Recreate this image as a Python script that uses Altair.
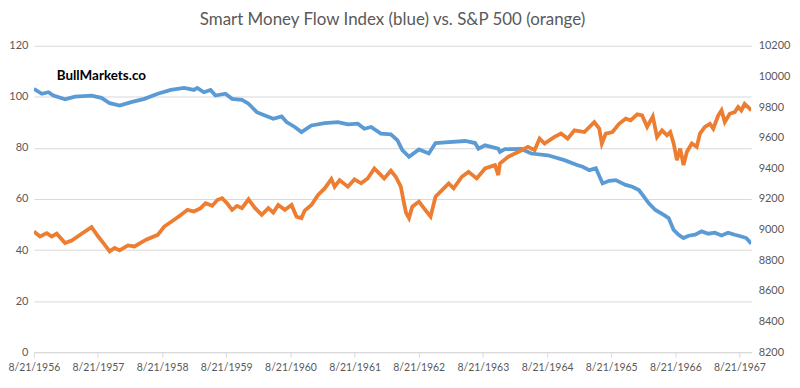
import altair as alt
import pandas as pd

# Smart Money Flow Index (left axis), decimal years
smfi_year = [1956.638, 1956.762, 1956.865, 1956.943, 1957.122, 1957.277, 1957.535, 1957.690, 1957.818, 1957.973,
             1958.154, 1958.359, 1958.567, 1958.772, 1958.978, 1959.133, 1959.185, 1959.287, 1959.391, 1959.468,
             1959.623, 1959.727, 1959.881, 1959.983, 1960.113, 1960.241, 1960.370, 1960.500, 1960.577, 1960.705,
             1960.809, 1960.964, 1961.169, 1961.375, 1961.530, 1961.684, 1961.788, 1961.892, 1962.046, 1962.201,
             1962.303, 1962.380, 1962.484, 1962.639, 1962.793, 1962.897, 1963.103, 1963.361, 1963.515, 1963.567,
             1963.670, 1963.876, 1963.902, 1963.979, 1964.236, 1964.391, 1964.649, 1964.907, 1965.113, 1965.190,
             1965.294, 1965.396, 1965.500, 1965.603, 1965.705, 1965.860, 1965.964, 1966.067, 1966.145, 1966.222,
             1966.324, 1966.454, 1966.531, 1966.609, 1966.686, 1966.763, 1966.841, 1966.943, 1967.046, 1967.150,
             1967.252, 1967.356, 1967.459, 1967.562, 1967.665, 1967.742, 1967.820]
smfi_value = [103.1, 101.2, 101.8, 100.5, 99.0, 100.1, 100.5, 99.6, 97.5, 96.6,
              97.9, 99.2, 101.2, 102.7, 103.5, 102.7, 103.5, 101.8, 102.7, 100.5,
              101.2, 99.2, 98.8, 97.3, 94.0, 92.7, 91.4, 92.3, 90.1, 88.2,
              86.2, 88.8, 89.7, 90.1, 89.2, 89.5, 87.5, 88.2, 85.6, 85.3,
              83.0, 79.1, 76.5, 79.4, 77.8, 81.9, 82.3, 82.7, 81.9, 79.7,
              81.0, 79.7, 78.4, 79.5, 79.6, 77.8, 77.1, 75.2, 73.2, 72.6,
              71.3, 72.0, 66.1, 67.1, 67.4, 65.5, 64.8, 63.5, 60.9, 58.3,
              55.7, 53.8, 52.5, 47.9, 46.0, 44.7, 45.6, 46.0, 47.3, 46.4,
              46.8, 45.7, 46.8, 46.0, 45.3, 44.7, 42.5]

# S&P 500 (right axis), decimal years
spx_year = [1956.638, 1956.735, 1956.839, 1956.916, 1956.994, 1957.122, 1957.226, 1957.380, 1957.535, 1957.639,
            1957.741, 1957.818, 1957.895, 1957.973, 1958.103, 1958.205, 1958.386, 1958.567, 1958.669, 1958.823,
            1958.927, 1959.031, 1959.133, 1959.236, 1959.314, 1959.417, 1959.495, 1959.572, 1959.649, 1959.727,
            1959.804, 1959.881, 1959.983, 1960.087, 1960.190, 1960.293, 1960.370, 1960.447, 1960.551, 1960.654,
            1960.732, 1960.809, 1960.860, 1960.964, 1961.066, 1961.169, 1961.273, 1961.324, 1961.401, 1961.530,
            1961.633, 1961.737, 1961.839, 1961.943, 1962.046, 1962.097, 1962.201, 1962.278, 1962.356, 1962.407,
            1962.438, 1962.484, 1962.535, 1962.639, 1962.716, 1962.820, 1962.897, 1962.999, 1963.103, 1963.180,
            1963.308, 1963.412, 1963.540, 1963.670, 1963.825, 1963.876, 1963.902, 1964.031, 1964.185, 1964.340,
            1964.443, 1964.521, 1964.598, 1964.753, 1964.855, 1964.958, 1965.062, 1965.217, 1965.371, 1965.449,
            1965.489, 1965.551, 1965.654, 1965.758, 1965.860, 1965.937, 1966.041, 1966.118, 1966.196, 1966.284,
            1966.350, 1966.428, 1966.505, 1966.556, 1966.609, 1966.660, 1966.711, 1966.763, 1966.814, 1966.892,
            1966.969, 1967.020, 1967.097, 1967.175, 1967.227, 1967.305, 1967.356, 1967.407, 1967.484, 1967.562,
            1967.614, 1967.665, 1967.716, 1967.769, 1967.820]
spx_value = [8988, 8955, 8977, 8955, 8973, 8912, 8929, 8973, 9016, 8955,
             8901, 8858, 8880, 8864, 8897, 8890, 8934, 8966, 9020, 9064,
             9096, 9129, 9118, 9140, 9172, 9155, 9193, 9205, 9172, 9129,
             9155, 9140, 9198, 9140, 9096, 9140, 9111, 9161, 9129, 9161,
             9085, 9075, 9124, 9161, 9226, 9269, 9330, 9280, 9323, 9280,
             9328, 9302, 9334, 9399, 9356, 9334, 9384, 9345, 9280, 9172,
             9110, 9075, 9150, 9183, 9140, 9085, 9215, 9258, 9302, 9269,
             9345, 9377, 9334, 9399, 9421, 9356, 9432, 9475, 9507, 9540,
             9518, 9594, 9562, 9605, 9627, 9594, 9648, 9637, 9702, 9659,
             9562, 9627, 9637, 9691, 9724, 9713, 9752, 9745, 9670, 9739,
             9605, 9648, 9616, 9637, 9562, 9453, 9529, 9421, 9507, 9562,
             9540, 9627, 9670, 9691, 9659, 9745, 9778, 9702, 9756, 9767,
             9800, 9778, 9821, 9800, 9778]

tick_years = list(range(1956, 1968))
left_ticks = [0, 20, 40, 60, 80, 100, 120]
right_ticks = list(range(8200, 10201, 200))

TITLE = "Smart Money Flow Index (blue) vs. S&P 500 (orange)"
WATERMARK = "BullMarkets.co"


def to_date(years):
    out = []
    for y in years:
        yi = int(y)
        days = (y - yi) * 365.25
        out.append(pd.Timestamp(year=yi, month=1, day=1) + pd.Timedelta(days=days))
    return out


smfi = pd.DataFrame({"date": to_date(smfi_year), "value": smfi_value})
spx = pd.DataFrame({"date": to_date(spx_year), "value": spx_value})

FONT = "Lato"
GRAY = "#595959"
GRID = "#d9d9d9"

x_enc = alt.X(
    "date:T",
    scale=alt.Scale(domain=[alt.DateTime(year=1956, month=8, date=21),
                            alt.DateTime(year=1967, month=10, date=27)]),
    axis=alt.Axis(
        values=[alt.DateTime(year=y, month=8, date=21) for y in tick_years],
        format="%-m/%-d/%Y",
        title=None,
        grid=False,
        domainColor=GRID,
        tickColor=GRID,
        tickSize=5,
        labelColor=GRAY,
        labelFont=FONT,
        labelFontSize=10.5,
        labelPadding=5,
        labelOverlap=False,
        labelFlush=False,
    ),
)

blue = alt.Chart(smfi).mark_line(color="#5B9BD5", strokeWidth=3.8, clip=True).encode(
    x=x_enc,
    y=alt.Y(
        "value:Q",
        scale=alt.Scale(domain=[0, 120], nice=False),
        axis=alt.Axis(
            values=left_ticks,
            title=None,
            domain=False,
            ticks=False,
            grid=True,
            gridColor=GRID,
            labelColor=GRAY,
            labelFont=FONT,
            labelFontSize=11,
            labelPadding=6,
            orient="left",
        ),
    ),
)

orange = alt.Chart(spx).mark_line(color="#ED7D31", strokeWidth=3.8, clip=True).encode(
    x=x_enc,
    y=alt.Y(
        "value:Q",
        scale=alt.Scale(domain=[8200, 10200], nice=False),
        axis=alt.Axis(
            values=right_ticks,
            format="d",
            title=None,
            domain=False,
            ticks=False,
            grid=False,
            labelColor=GRAY,
            labelFont=FONT,
            labelFontSize=11,
            labelPadding=7,
            orient="right",
        ),
    ),
)

mark_label = alt.Chart(pd.DataFrame({"t": [WATERMARK]})).mark_text(
    font=FONT, fontSize=13.5, fontWeight="bold", color="#000000", align="left", baseline="middle"
).encode(text="t:N", x=alt.value(23), y=alt.value(30))

chart = (
    alt.layer(blue, orange, mark_label)
    .resolve_scale(y="independent")
    .properties(
        width=721,
        height=308,
        title=alt.TitleParams(TITLE, font=FONT, fontSize=17, fontWeight="normal", color=GRAY,
                              anchor="middle", offset=11),
        autosize=alt.AutoSizeParams(type="none"),
        padding={"left": 26, "top": 37, "right": 41, "bottom": 27},
    )
    .configure_view(stroke=None)
)

chart.save("out.html", embed_options={"renderer": "svg", "actions": False})
